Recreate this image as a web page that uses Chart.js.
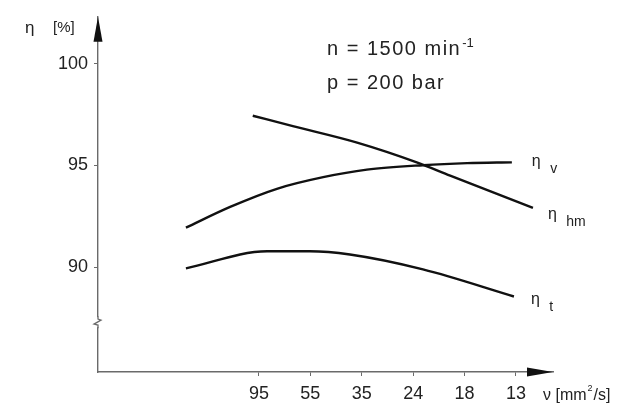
<!DOCTYPE html>
<html>
<head>
<meta charset="utf-8">
<script src="https://cdn.jsdelivr.net/npm/chart.js@4"></script>
<style>
  html, body { margin: 0; padding: 0; background: #fff; }
  canvas { display: block; }
</style>
</head>
<body>
<canvas id="c" width="639" height="409"></canvas>
<script>
// viscosity tick labels (evenly spaced on the axis)
const viscosity = ["95", "55", "35", "24", "18", "13"];
const yTicks = [90, 95, 100];

// curve points: x = position along viscosity axis (tick index), y = efficiency %
const posV = [-1.42, -0.56, 0.35, 1.25, 2.10, 3.19, 4.05, 4.92];
const etaV = [91.94, 92.96, 93.85, 94.42, 94.79, 95.01, 95.11, 95.15];

const posHm = [-0.12, 0.66, 1.91, 3.07, 3.72, 5.33];
const etaHm = [97.44, 96.93, 96.12, 95.15, 94.50, 92.91];

const posT = [-1.42, 0.16, 0.99, 1.77, 3.19, 4.96];
const etaT = [89.94, 90.78, 90.78, 90.62, 89.89, 88.56];

const breakAt = 87.3;
const FONT = "'Liberation Sans', Arial, sans-serif";
const AXIS = "#6a6a6a";
const TXT = "#222";

const pts = (xs, ys) => xs.map((x, i) => ({ x, y: ys[i] }));

const line = (label, data) => ({
  label, data,
  borderColor: "#111", borderWidth: 2.4, pointRadius: 0,
  tension: 0.4, cubicInterpolationMode: "monotone", fill: false
});

const decor = {
  id: "decor",
  afterDraw(chart) {
    const { ctx, chartArea: a, scales: { x, y } } = chart;
    ctx.save();
    // arrowheads
    ctx.fillStyle = "#111";
    ctx.beginPath();
    ctx.moveTo(a.left, a.top);
    ctx.lineTo(a.left - 4.5, a.top + 25);
    ctx.lineTo(a.left + 4.5, a.top + 25);
    ctx.closePath(); ctx.fill();
    ctx.beginPath();
    ctx.moveTo(a.right, a.bottom);
    ctx.lineTo(a.right - 26, a.bottom - 4.5);
    ctx.lineTo(a.right - 26, a.bottom + 4.5);
    ctx.closePath(); ctx.fill();

    // axis break
    const by = y.getPixelForValue(breakAt);
    ctx.fillStyle = "#fff";
    ctx.fillRect(a.left - 2, by - 5, 4, 10);
    ctx.strokeStyle = AXIS; ctx.lineWidth = 1.3;
    ctx.beginPath();
    ctx.moveTo(a.left, by - 6);
    ctx.lineTo(a.left, by - 3);
    ctx.lineTo(a.left + 3, by - 2);
    ctx.lineTo(a.left - 4, by + 2);
    ctx.lineTo(a.left, by + 3);
    ctx.lineTo(a.left, by + 6);
    ctx.stroke();

    ctx.fillStyle = TXT;
    ctx.textBaseline = "alphabetic";
    // y axis title
    ctx.font = "17px " + FONT;
    ctx.fillText("η", 25, 33);
    ctx.font = "15px " + FONT;
    ctx.fillText("[%]", 53, 32);

    // operating conditions
    ctx.font = "20px " + FONT;
    ctx.letterSpacing = "1.5px";
    ctx.fillText("n = 1500 min", 327, 55);
    const nw = ctx.measureText("n = 1500 min").width;
    ctx.fillText("p = 200 bar", 327, 89);
    ctx.letterSpacing = "0px";
    ctx.font = "13px " + FONT;
    ctx.fillText("-1", 327 + nw + 1, 47);

    // x axis title
    ctx.font = "16px " + FONT;
    ctx.fillText("ν [mm", 543, 400);
    const w = ctx.measureText("ν [mm").width;
    ctx.font = "9px " + FONT;
    ctx.fillText("2", 543 + w + 1, 391);
    ctx.font = "16px " + FONT;
    ctx.fillText("/s]", 543 + w + 7, 400);

    // curve labels next to curve ends
    const tag = (xs, ys, sub, dx, dy) => {
      const px = x.getPixelForValue(xs[xs.length - 1]) + dx;
      const py = y.getPixelForValue(ys[ys.length - 1]) + dy;
      ctx.font = "16px " + FONT;
      ctx.fillText("η", px, py);
      const ew = ctx.measureText("η ").width;
      ctx.font = "14px " + FONT;
      ctx.fillText(sub, px + ew + 5, py + 7);
    };
    tag(posV, etaV, "v", 20, 4);
    tag(posHm, etaHm, "hm", 15, 11);
    tag(posT, etaT, "t", 17, 8);
    ctx.restore();
  }
};

new Chart(document.getElementById("c"), {
  type: "line",
  data: {
    datasets: [
      line("ηv", pts(posV, etaV)),
      line("ηhm", pts(posHm, etaHm)),
      line("ηt", pts(posT, etaT))
    ]
  },
  options: {
    responsive: false,
    animation: false,
    layout: { padding: { left: 0, right: 86, top: 13, bottom: 0 } },
    plugins: { legend: { display: false }, tooltip: { enabled: false } },
    scales: {
      x: {
        type: "linear", min: -3.13, max: 5.72,
        afterBuildTicks: s => { s.ticks = viscosity.map((_, i) => ({ value: i })); },
        afterFit: s => { s.height = 37; },
        grid: { drawOnChartArea: false, drawTicks: true, tickLength: 4, color: AXIS },
        border: { color: AXIS, width: 1.4 },
        ticks: {
          callback: v => viscosity[v], color: TXT, padding: 7,
          font: { family: FONT, size: 18 }, maxRotation: 0
        }
      },
      y: {
        min: 84.85, max: 102.3,
        afterBuildTicks: s => { s.ticks = yTicks.map(v => ({ value: v })); },
        afterFit: s => { s.width = 98; },
        grid: { drawOnChartArea: false, drawTicks: true, tickLength: 4, color: AXIS },
        border: { color: AXIS, width: 1.4 },
        ticks: { color: TXT, padding: 6, font: { family: FONT, size: 18 } }
      }
    }
  },
  plugins: [decor]
});
</script>
</body>
</html>
